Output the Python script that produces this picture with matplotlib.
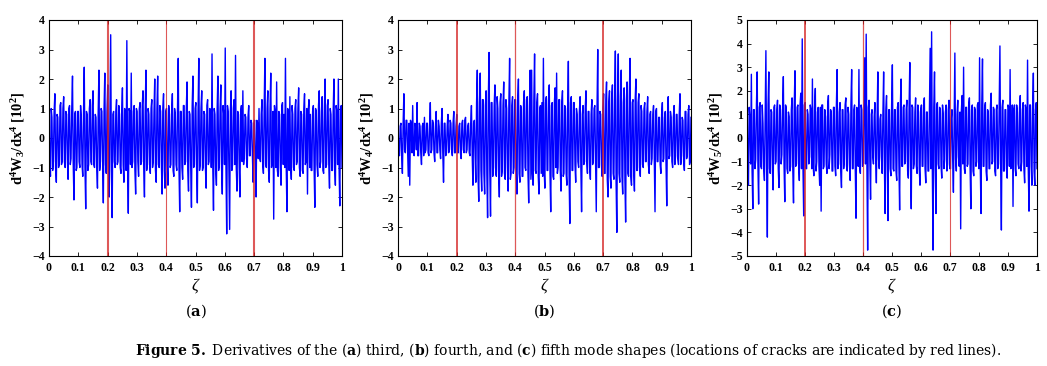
import numpy as np
import matplotlib
matplotlib.use('Agg')
import matplotlib.pyplot as plt

plt.rcParams['font.family'] = ['Liberation Serif', 'DejaVu Serif']
plt.rcParams['mathtext.fontset'] = 'custom'
plt.rcParams['mathtext.rm'] = 'Liberation Serif'
plt.rcParams['mathtext.bf'] = 'Liberation Serif:bold'
plt.rcParams['mathtext.it'] = 'Liberation Serif:italic'

# crack locations
CRACKS = [0.2, 0.4, 0.7]

# 4th derivative of mode 3; two lines per 0.1 of zeta
w3 = [
    0.8, -0.9, -1.3, 1.0, 0.7, -1.1, -0.8, 0.9, 1.5, -1.0, -1.5, 0.8, 0.7, -1.0, -0.9, 1.1, 1.2, -0.9, -0.8, 1.0,
    1.4, -0.8, -1.0, 0.9, 0.8, -0.7, -1.4, 1.0, 1.1, -0.9, -0.7, 1.0, 2.1, -0.9, -2.1, 0.8, 0.9, -1.1, -1.0, 0.9,
    0.9, -0.8, -1.0, 1.1, 0.7, -0.9, -1.3, 0.8, 2.4, -1.0, -2.4, 0.9, 0.8, -1.1, -0.9, 1.0, 1.3, -0.8, -0.9, 1.1,
    1.6, -0.9, -1.0, 0.8, 0.7, -1.0, -1.7, 0.9, 2.3, -1.1, -0.8, 1.0, 0.9, -0.8, -2.2, 1.0, 2.2, -0.9, -1.2, 0.9,
    1.8, -1.0, -2.0, 0.9, 3.5, -1.1, -2.7, 0.8, 0.9, -0.8, -1.0, 0.9, 1.3, -0.9, -0.8, 1.1, 0.8, -1.0, -1.2, 0.9,
    1.7, -0.9, -1.5, 1.0, 0.8, -1.1, 3.3, -0.8, -2.55, 1.0, 0.9, -0.9, 2.2, -1.0, -0.8, 0.9, 1.1, -1.1, -1.9, 1.0,
    0.9, -0.8, -1.3, 1.0, 1.2, -0.9, -0.8, 1.1, 1.6, -1.0, -2.0, 0.9, 2.3, -1.1, -0.9, 1.0, 0.8, -0.9, -1.2, 1.0,
    1.3, -1.0, -0.8, 0.9, 2.0, -1.1, -1.5, 1.0, 2.1, -0.9, -1.0, 1.1, 0.9, -0.8, -1.9, 1.0, 1.5, -1.1, -1.7, 0.9,
    1.0, -0.9, -1.6, 1.1, 0.8, -1.0, -0.9, 0.9, 1.5, -1.1, -1.3, 1.0, 0.8, -0.9, -1.1, 1.0, 2.7, -1.0, -2.5, 0.9,
    0.9, -1.0, -1.4, 1.1, 1.1, -0.9, -0.8, 1.0, 1.9, -1.1, -1.8, 0.9, 0.8, -1.0, -2.35, 1.1, 2.1, -1.0, -0.9, 1.0,
    1.2, -1.0, -2.2, 0.9, 2.7, -1.1, -0.9, 1.0, 1.6, -1.1, -1.0, 0.9, 0.8, -1.0, -1.7, 1.1, 1.3, -0.9, -0.8, 1.0,
    0.9, -1.0, 2.85, -0.9, -2.45, 1.0, 0.8, -1.1, -1.6, 1.0, 2.1, -1.1, -0.9, 1.0, 1.8, -1.0, -1.9, 1.1, 0.8, -0.9,
    3.05, -1.0, -3.25, 1.1, 0.9, -1.0, -3.1, 0.9, 1.6, -1.1, -0.9, 1.0, 1.3, -0.9, 2.8, -1.0, -1.8, 0.9, 0.8, -1.0,
    -2.0, 0.9, 1.1, -0.8, 1.6, -0.9, -0.6, 0.8, 0.7, -0.7, -1.0, 0.7, 1.1, -0.6, -0.6, 0.6, 0.5, -0.6, -1.5, 0.5,
    0.6, -0.6, -2.0, 0.6, 0.5, -0.7, 1.0, -0.7, -0.8, 0.8, 1.3, -0.9, -1.2, 1.0, 2.7, -0.9, -1.0, 1.0, 1.6, -1.1,
    -1.5, 1.0, 2.2, -1.0, -0.8, 0.9, -2.75, 1.1, 0.9, -1.0, 1.9, -1.1, -1.3, 0.9, 0.8, -1.0, -1.6, 1.1, 1.2, -0.9,
    0.8, -1.0, 2.7, -0.9, -2.5, 1.0, 0.9, -1.1, 1.4, -0.9, -1.4, 1.1, 0.8, -1.0, -1.1, 1.0, 1.3, -0.9, -0.8, 1.0,
    1.7, -1.0, -1.3, 0.9, 0.8, -1.1, -1.2, 1.0, 1.5, -0.9, -0.8, 1.0, -1.9, 0.9, 1.3, -1.0, 0.8, -1.1, -1.1, 0.9,
    1.1, -1.0, -2.35, 1.0, 0.9, -0.9, -1.3, 1.1, 1.6, -1.0, -0.8, 0.9, 1.4, -1.1, -1.2, 1.0, 2.0, -1.0, -0.9, 1.1,
    1.3, -0.9, -1.7, 1.0, 0.8, -1.1, -1.1, 0.9, 2.0, -1.0, -1.6, 1.1, 0.9, -0.9, 2.0, -1.0, -2.3, 1.0, 1.1, -1.0,
]

# mode 4, panel (b)
w4 = [
    0.5, -0.5, -0.6, 0.4, 0.5, -0.6, -1.2, 0.5, 1.5, -0.4, -0.5, 0.6, 0.6, -0.4, -1.3, 0.5, -1.6, 0.6, 0.5, -0.5,
    1.1, -0.5, -0.6, 0.5, 0.4, -0.4, 1.2, -0.6, -0.6, 0.5, 0.4, -0.5, -0.9, 0.4, 0.5, -0.6, 0.7, -0.5, -0.4, 0.5,
    0.5, -0.5, -0.6, 0.4, 1.2, -0.5, -0.4, 0.6, 0.5, -0.5, -0.8, 0.4, 0.9, -0.5, -0.5, 0.6, 0.4, -0.4, -0.7, 0.5,
    1.0, -0.5, -1.5, 0.5, 0.5, -0.6, -0.5, 0.4, 0.8, -0.5, -0.4, 0.6, 0.5, -0.4, -0.6, 0.5, 0.9, -0.5, -0.5, 0.4,
    0.8, -0.5, -0.5, 0.4, 0.5, -0.5, -0.7, 0.5, 0.6, -0.4, -0.5, 0.6, 0.7, -0.5, -0.4, 0.4, 0.5, -0.5, -0.6, 0.5,
    1.1, -0.5, -1.6, 0.5, 0.6, -0.6, -1.5, 1.2, 2.3, -1.3, -2.15, 1.2, 2.2, -1.1, -1.8, 1.3, 1.3, -1.2, -1.9, 1.1,
    1.6, -1.2, -2.7, 1.3, 2.9, -1.1, -2.65, 1.2, 1.2, -1.3, -1.0, 1.1, 1.8, -1.2, -1.3, 1.4, 1.0, -1.1, -2.0, 1.2,
    1.5, -1.3, -1.1, 1.1, 1.9, -1.2, -1.4, 1.3, 1.0, -1.0, -1.8, 1.2, 2.7, -1.4, -1.2, 1.1, 1.4, -1.2, -1.0, 1.3,
    1.3, -1.1, -1.9, 1.3, 2.0, -1.2, -1.5, 1.1, 1.0, -1.3, -1.3, 1.2, 1.6, -1.0, -1.1, 1.3, 1.4, -1.2, -2.2, 1.1,
    2.3, -1.4, 2.3, -1.2, -1.6, 1.3, 2.85, -1.1, -1.2, 1.2, 1.5, -1.3, -1.9, 1.0, 1.1, -1.2, 1.2, -1.3, 2.7, -1.1,
    -1.7, 1.2, 1.4, -1.1, -1.1, 1.3, 1.8, -1.2, -2.5, 1.1, 1.2, -1.3, -1.4, 1.2, 1.7, -1.0, 2.2, -1.2, -1.0, 1.3,
    1.3, -1.1, -1.8, 1.2, 1.6, -1.3, -1.2, 1.1, 1.0, -1.2, -1.6, 1.0, 2.6, -1.3, -2.9, 1.2, 1.4, -1.1, -1.1, 1.2,
    1.2, -0.9, -1.5, 1.0, 0.8, -0.8, -1.0, 0.9, 1.4, -1.0, -2.5, 0.8, 1.1, -0.9, -0.8, 1.0, 1.6, -0.8, -1.2, 0.9,
    0.9, -1.0, -1.4, 0.8, 1.3, -0.9, -0.8, 1.0, 1.1, -0.8, -2.5, 0.9, 3.0, -1.0, -1.0, 0.9, 0.8, -0.9, -1.3, 1.0,
    1.5, -1.2, -1.2, 1.3, 1.9, -1.4, -2.0, 1.2, 1.6, -1.3, -1.7, 1.4, 1.8, -1.2, -1.4, 1.3, 2.95, -1.5, -3.2, 1.3,
    2.85, -1.2, -1.5, 1.4, 2.3, -1.3, -1.9, 1.2, 1.7, -1.4, -2.85, 1.3, 1.9, -1.2, -1.3, 1.4, 2.7, -1.3, -1.6, 1.2,
    1.3, -1.2, -1.8, 1.3, 2.0, -1.1, -1.1, 1.2, 1.5, -1.0, -1.3, 1.1, 0.9, -0.9, -1.0, 1.0, 1.2, -0.8, -0.8, 0.9,
    1.4, -0.9, -1.2, 0.8, 0.9, -0.9, -0.7, 0.8, 1.1, -0.7, -2.5, 0.9, 1.0, -0.8, -0.8, 0.7, 0.7, -0.9, -1.2, 0.8,
    1.2, -0.8, -0.7, 0.7, 0.9, -0.9, -2.3, 0.8, 1.4, -0.7, -0.6, 0.9, 0.7, -0.8, -1.0, 0.7, 1.1, -0.9, -0.6, 0.8,
    0.8, -0.7, -0.9, 0.8, 1.5, -0.9, -0.6, 0.7, 0.6, -0.8, -1.1, 0.9, 0.9, -0.7, -0.6, 0.8, 1.1, -0.9, -0.8, 0.7,
]

# mode 5, panel (c)
w5 = [
    2.0, -1.2, -2.0, 1.3, 0.8, -1.1, 2.7, -1.4, -3.0, 1.2, 1.2, -1.3, -0.9, 1.4, 2.8, -1.1, -2.8, 1.3, 1.5, -1.2,
    -1.3, 1.4, 0.6, -1.3, -1.8, 1.1, 3.7, -1.2, -4.2, 1.4, 2.8, -1.3, -1.5, 1.2, 1.1, -1.4, -2.2, 1.3, 1.4, -1.1,
    -1.0, 1.2, 1.6, -1.3, -2.1, 1.4, 1.2, -1.1, -0.7, 1.3, 2.6, -1.2, -2.7, 1.4, 1.3, -1.3, -1.5, 1.1, 0.9, -1.4,
    -1.2, 1.2, 1.7, -1.3, -2.75, 1.4, 2.85, -1.2, -1.1, 1.3, 1.4, -1.1, -1.8, 1.4, 1.9, -1.3, 4.2, -1.2, -3.3, 1.4,
    1.5, -1.3, -1.3, 1.2, 1.0, -1.1, -0.8, 1.4, 1.2, -1.3, 2.5, -1.2, -1.6, 1.3, 2.1, -1.4, -1.0, 1.1, 1.3, -1.2,
    -2.0, 1.3, -3.1, 1.4, 1.4, -1.3, -1.2, 1.2, 0.9, -1.1, -1.5, 1.4, 1.8, -1.3, -0.7, 1.2, 1.1, -1.4, -1.4, 1.3,
    1.3, -1.2, -1.6, 1.4, 2.9, -1.3, -1.1, 1.1, 1.5, -1.4, -2.1, 1.2, 1.2, -1.3, -0.9, 1.4, 1.7, -1.2, -1.4, 1.3,
    1.0, -1.1, -1.8, 1.4, 2.9, -1.3, -1.3, 1.2, 1.4, -1.4, -3.4, 1.3, 1.1, -1.2, 2.9, -1.3, -1.5, 1.4, 1.2, -1.2,
    -1.0, 1.2, 3.4, -1.1, 4.4, -1.2, -4.75, 1.3, 1.6, -0.9, -2.6, 1.0, 1.2, -0.8, -1.1, 0.9, 1.5, -0.8, -1.9, 0.8,
    2.8, -0.9, -1.3, 0.8, 1.0, -0.8, -1.5, 1.0, 2.8, -1.1, -3.2, 1.2, 1.8, -1.1, -3.5, 1.2, 1.2, -1.3, -1.6, 1.4,
    3.1, -1.3, -1.4, 1.2, 1.2, -1.4, -1.8, 1.3, 1.5, -1.1, -3.05, 1.4, 2.5, -1.2, -1.2, 1.3, 1.4, -1.1, -1.0, 1.2,
    1.6, -1.4, -1.7, 1.3, 3.2, -1.2, -3.0, 1.4, 1.3, -1.3, -1.1, 1.1, 1.7, -1.2, -1.5, 1.4, 1.1, -1.3, -2.0, 1.2,
    1.4, -1.2, -1.2, 1.4, 1.7, -1.3, -1.9, 1.1, 1.1, -1.4, -1.4, 1.2, 3.8, -1.3, 4.5, -1.4, -4.75, 1.3, 2.8, -1.2,
    -3.2, 1.4, 1.5, -1.1, -1.3, 1.3, 1.2, -1.2, -1.7, 1.4, 1.0, -1.3, -0.9, 1.1, 1.4, -1.4, -1.1, 1.2, 1.6, -1.3,
    -1.3, 0.8, 1.2, -0.9, -2.3, 0.8, 3.6, -0.9, -1.4, 1.0, 1.6, -0.8, -1.2, 1.1, -3.85, 1.2, 1.8, -1.1, 3.0, -1.3,
    -1.5, 1.3, 1.3, -1.2, -1.1, 1.4, 1.7, -1.3, -3.0, 1.2, 1.4, -1.4, -1.6, 1.3, 1.2, -1.2, -1.0, 1.4, 1.5, -1.3,
    3.4, -1.3, -3.2, 1.4, 3.35, -1.2, -1.2, 1.3, 1.5, -1.4, -1.8, 1.2, 1.1, -1.3, -1.3, 1.4, 1.9, -1.1, -1.0, 1.3,
    1.2, -1.4, -1.6, 1.2, 1.4, -1.3, -1.1, 1.4, 3.9, -1.2, -3.9, 1.3, 1.6, -1.4, -1.4, 1.2, 1.2, -1.3, -1.7, 1.4,
    1.3, -1.2, 2.9, -1.3, -1.2, 1.4, -2.9, 1.2, 1.4, -1.3, -1.6, 1.4, 1.1, -1.1, -1.3, 1.3, 1.8, -1.4, -1.0, 1.2,
    1.5, -1.3, -1.9, 1.4, 1.2, -1.2, 3.3, -1.3, -3.1, 1.4, 1.4, -1.2, -2.0, 1.3, 2.75, -1.4, -2.0, 1.2, 1.5, -1.3,
]

panels = [
    (w3, 3, 4, [1.5, 0.8, 1.5], 'a'),
    (w4, 4, 4, [1.4, 0.9, 1.4], 'b'),
    (w5, 5, 5, [1.4, 0.9, 0.8], 'c'),
]
lefts = [49, 398, 747]
widths = [293, 293, 290]

W, H = 1047, 366
fig = plt.figure(figsize=(W / 100, H / 100), dpi=100)

for (w, mode, lim, lws, tag), left, width in zip(panels, lefts, widths):
    ax = fig.add_axes([left / W, (366 - 256) / H, width / W, 236 / H])
    zeta = np.linspace(0, 1, len(w))
    ax.plot(zeta, w, color='#0000ff', linewidth=1.0)
    for c, lw in zip(CRACKS, lws):
        ax.axvline(c, color='#d42020', linewidth=lw, alpha=0.75)
    ax.set_xlim(0, 1)
    ax.set_ylim(-lim, lim)
    ax.set_xticks(np.arange(0, 1.01, 0.1))
    ax.set_xticklabels(['0', '0.1', '0.2', '0.3', '0.4', '0.5', '0.6', '0.7', '0.8', '0.9', '1'])
    ax.set_yticks(range(-lim, lim + 1))
    ax.tick_params(direction='in', length=3, width=0.6, top=True, right=True,
                   labelsize=8.5)
    ax.tick_params(axis='x', pad=4)
    ax.tick_params(axis='y', pad=3)
    for lab in ax.get_xticklabels() + ax.get_yticklabels():
        lab.set_fontweight('bold')
    for s in ax.spines.values():
        s.set_linewidth(0.8)
    ax.set_ylabel(r'$\mathbf{d^4W_%d/dx^4\ [10^2]}$' % mode, fontsize=10.5, labelpad=4)
    ax.set_xlabel(r'$\zeta$', fontsize=12, labelpad=2)
    fig.text((left + width / 2) / W, 1 - 311 / H,
             r'($\mathbf{%s}$)' % tag, ha='center', va='center', fontsize=10.5,
             family='DejaVu Serif', math_fontfamily='dejavuserif')

fig.text(568 / W, 1 - 351 / H,
         r'$\mathbf{Figure\ 5.}$ Derivatives of the ($\mathbf{a}$) third, ($\mathbf{b}$) fourth, '
         r'and ($\mathbf{c}$) fifth mode shapes (locations of cracks are indicated by red lines).',
         ha='center', va='center', fontsize=10, family='DejaVu Serif',
         math_fontfamily='dejavuserif')

fig.savefig('out.png', dpi=100)
